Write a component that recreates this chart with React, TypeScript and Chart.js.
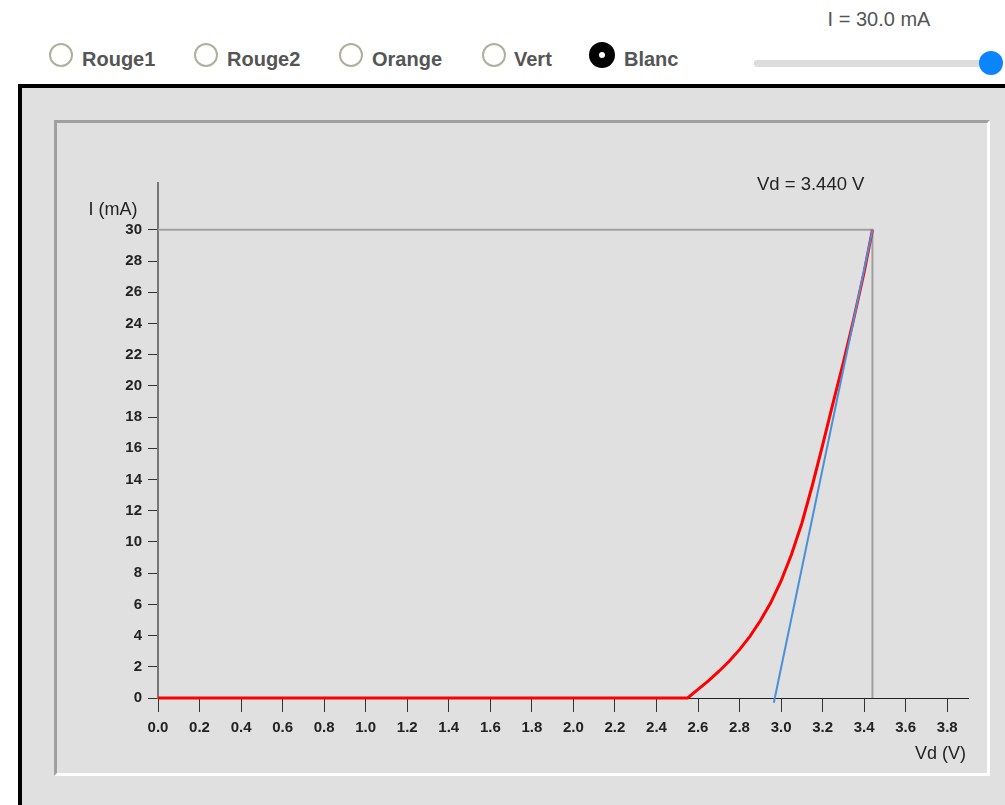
import React, { useEffect, useRef } from "react";
import { Chart, registerables } from "chart.js";

Chart.register(...registerables);

// ---- data ----
const diodeNames = ["Rouge1", "Rouge2", "Orange", "Vert", "Blanc"];
const selectedDiode = "Blanc";
const currentSettingLabel = "I = 30.0 mA";

// I(V) characteristic of the white LED (V in volts, I in mA)
const curveV = [0, 2.55, 2.6, 2.65, 2.7, 2.75, 2.8, 2.85, 2.9, 2.95, 3.0, 3.05, 3.1, 3.15, 3.2, 3.25, 3.3, 3.35, 3.4, 3.44];
const curveI = [0, 0, 0.55, 1.1, 1.7, 2.35, 3.1, 3.95, 4.95, 6.1, 7.5, 9.2, 11.2, 13.6, 16.2, 18.9, 21.5, 24.3, 27.3, 30];

// tangent at the operating point
const tangentV = [2.965, 3.44];
const tangentI = [-0.3, 30];

// operating point
const operatingV = 3.44;
const operatingI = 30;

// axes
const xTicks = [0, 0.2, 0.4, 0.6, 0.8, 1.0, 1.2, 1.4, 1.6, 1.8, 2.0, 2.2, 2.4, 2.6, 2.8, 3.0, 3.2, 3.4, 3.6, 3.8];
const yTicks = [0, 2, 4, 6, 8, 10, 12, 14, 16, 18, 20, 22, 24, 26, 28, 30];
const xMax = 3.9;
const yMax = 33;
const xTitle = "Vd (V)";
const yTitle = "I (mA)";

const FONT = '"Liberation Sans", Arial, Helvetica, sans-serif';

const textPlugin = {
  id: "textLabels",
  afterDatasetsDraw(chart: any) {
    const { ctx, chartArea, scales } = chart;
    const x = scales.x;
    const y = scales.y;
    ctx.save();
    ctx.fillStyle = "#222";
    ctx.font = `18px ${FONT}`;
    ctx.textBaseline = "middle";
    ctx.textAlign = "center";
    ctx.fillText(yTitle, chartArea.left - 45, chartArea.top + 27);
    ctx.textAlign = "right";
    ctx.fillText(xTitle, chartArea.right - 2, chartArea.bottom + 56);
    ctx.font = `18.5px ${FONT}`;
    ctx.fillText(
      `Vd = ${operatingV.toFixed(3)} V`,
      x.getPixelForValue(operatingV) - 8,
      y.getPixelForValue(operatingI) - 45
    );
    ctx.restore();
  },
};

function DiodeChart() {
  const ref = useRef<HTMLCanvasElement | null>(null);
  useEffect(() => {
    if (!ref.current) return;
    Chart.defaults.font.family = FONT;
    const chart = new Chart(ref.current, {
      type: "scatter",
      data: {
        datasets: [
          {
            data: tangentV.map((v, i) => ({ x: v, y: tangentI[i] })),
            showLine: true,
            borderColor: "#4a90d9",
            borderWidth: 2,
            pointRadius: 0,
            clip: false as any,
          },
          {
            data: curveV.map((v, i) => ({ x: v, y: curveI[i] })),
            showLine: true,
            borderColor: "#ff0000",
            borderWidth: 3,
            pointRadius: 0,
            clip: false as any,
          },
          {
            data: [
              { x: 0, y: operatingI },
              { x: operatingV, y: operatingI },
              { x: operatingV, y: 0 },
            ],
            showLine: true,
            borderColor: "#a0a0a0",
            borderWidth: 2,
            pointRadius: 0,
            clip: false as any,
          },
        ],
      },
      options: {
        animation: false,
        responsive: false,
        devicePixelRatio: 1,
        layout: { padding: { left: 0, top: 59, right: 18, bottom: 0 } },
        plugins: { legend: { display: false }, tooltip: { enabled: false } },
        events: [],
        scales: {
          x: {
            type: "linear",
            min: 0,
            max: xMax,
            afterBuildTicks: (s: any) => {
              s.ticks = xTicks.map((v) => ({ value: v }));
            },
            afterFit: (s: any) => {
              s.height = 74;
            },
            ticks: {
              autoSkip: false,
              maxRotation: 0,
              padding: 7,
              color: "#222",
              font: { size: 15, weight: "bold", family: FONT },
              callback: (v: any) => Number(v).toFixed(1),
            },
            grid: {
              drawOnChartArea: false,
              drawTicks: true,
              tickLength: 14,
              color: "#333",
              tickColor: "#333",
            },
            border: { display: true, color: "#222", width: 1 },
          },
          y: {
            type: "linear",
            min: 0,
            max: yMax,
            afterBuildTicks: (s: any) => {
              s.ticks = yTicks.map((v) => ({ value: v }));
            },
            afterFit: (s: any) => {
              s.width = 100;
            },
            ticks: {
              autoSkip: false,
              padding: 6,
              color: "#222",
              font: { size: 15, weight: "bold", family: FONT },
              callback: (v: any) => String(v),
            },
            grid: {
              drawOnChartArea: false,
              drawTicks: true,
              tickLength: 10,
              color: "#333",
              tickColor: "#333",
            },
            border: { display: true, color: "#777", width: 2 },
          },
        },
      },
      plugins: [textPlugin],
    } as any);
    return () => chart.destroy();
  }, []);
  return (
    <canvas
      ref={ref}
      width={928}
      height={648}
      style={{ position: "absolute", left: 58, top: 124, width: 928, height: 648 }}
    />
  );
}

const radioCenters = [61, 206, 351, 494, 602];
const labelLefts = [82, 227, 372, 514, 624];

export default function App() {
  return (
    <div
      style={{
        position: "fixed",
        left: 0,
        top: 0,
        width: 1005,
        height: 805,
        background: "#fff",
        overflow: "hidden",
        fontFamily: FONT,
      }}
    >
      {diodeNames.map((name, i) => {
        const sel = name === selectedDiode;
        const d = sel ? 26 : 24;
        return (
          <React.Fragment key={name}>
            <div
              style={{
                position: "absolute",
                left: radioCenters[i] - d / 2,
                top: 54.5 - d / 2,
                width: d,
                height: d,
                borderRadius: "50%",
                boxSizing: "border-box",
                border: sel ? "10px solid #000" : "2px solid #b3ad9e",
                background: "#fff",
              }}
            />
            <div
              style={{
                position: "absolute",
                left: labelLefts[i],
                top: 49,
                fontSize: 20,
                lineHeight: "20px",
                fontWeight: "bold",
                color: "#555",
                whiteSpace: "nowrap",
              }}
            >
              {name}
            </div>
          </React.Fragment>
        );
      })}
      <div
        style={{
          position: "absolute",
          left: 777,
          width: 204,
          top: 9,
          fontSize: 20,
          lineHeight: "20px",
          color: "#555",
          textAlign: "center",
          whiteSpace: "nowrap",
        }}
      >
        {currentSettingLabel}
      </div>
      <div
        style={{
          position: "absolute",
          left: 754,
          top: 59.5,
          width: 240,
          height: 7,
          borderRadius: 3,
          background: "#dddddd",
        }}
      />
      <div
        style={{
          position: "absolute",
          left: 979,
          top: 51,
          width: 24,
          height: 24,
          borderRadius: "50%",
          background: "#0b84ff",
        }}
      />
      <div
        style={{
          position: "absolute",
          left: 18,
          top: 84,
          width: 1100,
          height: 800,
          boxSizing: "border-box",
          border: "4px solid #000",
          background: "#e0e0e0",
        }}
      />
      <div
        style={{
          position: "absolute",
          left: 54,
          top: 120,
          width: 936,
          height: 656,
          boxSizing: "border-box",
          borderTop: "3px solid #a0a0a0",
          borderLeft: "3px solid #a0a0a0",
          borderRight: "3px solid #ffffff",
          borderBottom: "3px solid #ffffff",
          background: "#e0e0e0",
        }}
      />
      <DiodeChart />
    </div>
  );
}
